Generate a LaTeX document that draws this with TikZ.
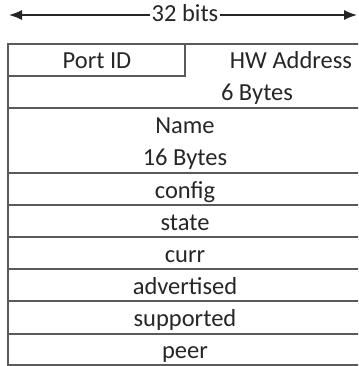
\documentclass[tikz,border=0pt]{standalone}
\usepackage{fontspec}
\setmainfont{Carlito}
\usetikzlibrary{arrows.meta}
\definecolor{rule}{RGB}{90,90,90}
\begin{document}
\begin{tikzpicture}[x=1pt,y=-1pt,
  cell/.style={anchor=base,inner sep=0pt,font=\fontsize{24.5}{29}\selectfont,text=black!85},
  grid/.style={draw=rule,line width=1.4pt},
  arr/.style={line width=1.4pt,draw=black!85}]
\useasboundingbox (0,0) rectangle (358,366);
\clip (0,0) rectangle (358,366);
% table frame and rules
\draw[grid] (362,44) -- (8,44) -- (8,365) -- (362,365);
\draw[grid] (8,76) -- (185,76) -- (185,44);
\foreach \yy in {108,173,205,237,269,301,334}
  \draw[grid] (8,\yy) -- (362,\yy);
% header arrow
\node[cell,inner xsep=1pt] (bits) at (185,22) {32 bits};
\coordinate (al) at (9,15);
\coordinate (ar) at (357,15);
\draw[arr,{Latex[length=13pt,width=10pt]}-] (al) -- (al -| bits.west);
\draw[arr,-{Latex[length=13pt,width=10pt]}] (ar -| bits.east) -- (ar);
% cell texts
\node[cell] (port) at (97,69) {Port ID};
\node[cell] (hw) at (291,69) {HW Address};
\node[cell] (hwb) at (257,101) {6 Bytes};
\node[cell] (name) at (185,134) {Name};
\node[cell] (nameb) at (185,165) {16 Bytes};
\node[cell] (config) at (185,198) {config};
\node[cell] (state) at (185,230) {state};
\node[cell] (curr) at (185,262) {curr};
\node[cell] (adv) at (185,294) {advertised};
\node[cell] (supp) at (185,326) {supported};
\node[cell] (peer) at (185,358) {peer};
\end{tikzpicture}
\end{document}
